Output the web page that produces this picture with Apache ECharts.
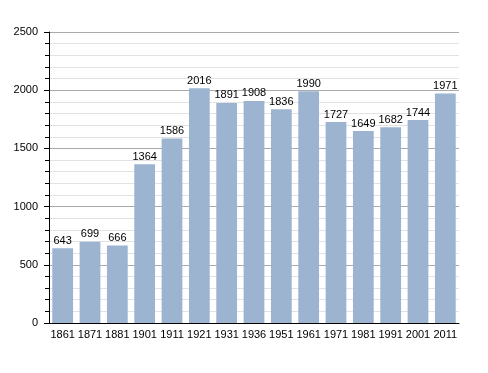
<!DOCTYPE html>
<html><head><meta charset="utf-8">
<script src="https://cdn.jsdelivr.net/npm/echarts@6/dist/echarts.min.js"></script>
<style>html,body{margin:0;padding:0;background:#fff}#c{width:488px;height:373px}</style>
</head><body><div id="c"></div>
<script>
const categories = ['1861','1871','1881','1901','1911','1921','1931','1936','1951','1961','1971','1981','1991','2001','2011'];
const values = [643,699,666,1364,1586,2016,1891,1908,1836,1990,1727,1649,1682,1744,1971];
const yTicks = [0,500,1000,1500,2000,2500];
const chart = echarts.init(document.getElementById('c'), null, {renderer:'canvas'});
chart.setOption({
  animation:false,
  grid:{left:49,right:29,top:32,bottom:50,containLabel:false},
  xAxis:{type:'category',data:categories,
    axisLine:{lineStyle:{color:'#000',width:1}},axisTick:{show:false},
    axisLabel:{color:'#000',fontSize:11,fontFamily:'Liberation Sans, Arial, sans-serif',margin:6,interval:0}},
  yAxis:{type:'value',min:yTicks[0],max:yTicks[yTicks.length-1],interval:500,
    axisLine:{show:true,lineStyle:{color:'#000',width:1}},
    axisTick:{show:true,length:5,lineStyle:{color:'#000'}},
    minorTick:{show:true,splitNumber:5,length:4,lineStyle:{color:'#000'}},
    splitLine:{show:true,lineStyle:{color:'#aaaaaa',width:1}},
    minorSplitLine:{show:true,lineStyle:{color:'#e2e2e2',width:1}},
    axisLabel:{color:'#000',fontSize:11,fontFamily:'Liberation Sans, Arial, sans-serif',margin:11,formatter:v=>String(v)}},
  series:[{type:'bar',data:values,barCategoryGap:'24%',
    itemStyle:{color:'#9db4d1'},
    label:{show:true,position:'top',distance:2,color:'#000',fontSize:11,fontFamily:'Liberation Sans, Arial, sans-serif'}}]
});
</script></body></html>
